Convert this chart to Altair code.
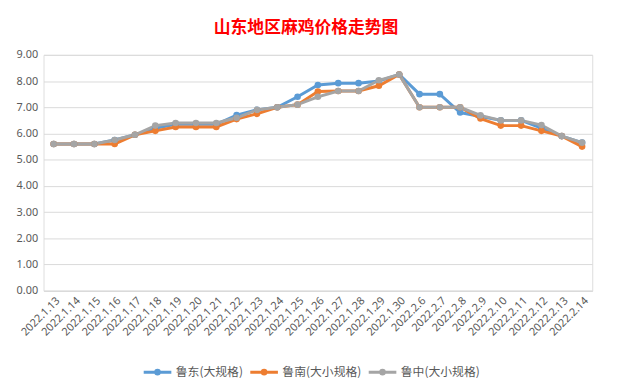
import altair as alt
import pandas as pd

dates = ["2022.1.13", "2022.1.14", "2022.1.15", "2022.1.16", "2022.1.17", "2022.1.18",
         "2022.1.19", "2022.1.20", "2022.1.21", "2022.1.22", "2022.1.23", "2022.1.24",
         "2022.1.25", "2022.1.26", "2022.1.27", "2022.1.28", "2022.1.29", "2022.1.30",
         "2022.2.6", "2022.2.7", "2022.2.8", "2022.2.9", "2022.2.10", "2022.2.11",
         "2022.2.12", "2022.2.13", "2022.2.14"]

ludong = [5.6, 5.6, 5.6, 5.75, 5.95, 6.2, 6.35, 6.35, 6.35, 6.7, 6.9, 7.0,
          7.4, 7.85, 7.92, 7.92, 8.0, 8.25, 7.5, 7.5, 6.8, 6.65, 6.5, 6.5,
          6.2, 5.9, 5.65]
lunan = [5.6, 5.6, 5.6, 5.6, 5.95, 6.1, 6.25, 6.25, 6.25, 6.55, 6.75, 7.0,
         7.1, 7.6, 7.62, 7.62, 7.82, 8.25, 7.0, 7.0, 7.0, 6.57, 6.3, 6.3,
         6.1, 5.9, 5.5]
luzhong = [5.6, 5.6, 5.6, 5.75, 5.95, 6.3, 6.4, 6.4, 6.4, 6.6, 6.9, 7.0,
           7.1, 7.4, 7.62, 7.62, 8.03, 8.25, 7.0, 7.0, 7.0, 6.69, 6.5, 6.5,
           6.32, 5.9, 5.65]

series_names = ["鲁东(大规格)", "鲁南(大小规格)", "鲁中(大小规格)"]
series_values = [ludong, lunan, luzhong]
colors = ["#5B9BD5", "#ED7D31", "#A5A5A5"]

rows = []
for name, vals in zip(series_names, series_values):
    for d, v in zip(dates, vals):
        rows.append({"date": d, "series": name, "price": v})
df = pd.DataFrame(rows)

legend_path = ("M-1,0L1,0"
               "M0.13,0A0.13,0.13,0,1,1,-0.13,0A0.13,0.13,0,1,1,0.13,0")

chart = alt.Chart(df).mark_line(
    strokeWidth=3,
    point=alt.OverlayMarkDef(filled=True, size=45, opacity=1),
).encode(
    x=alt.X("date:N", sort=dates, title=None,
            scale=alt.Scale(type="point", padding=0.5),
            axis=alt.Axis(labelAngle=-45, labelFontSize=11, labelColor="#595959",
                          ticks=False, domain=True, domainColor="#D9D9D9",
                          grid=False, labelPadding=4, labelFont="Noto Sans")),
    y=alt.Y("price:Q", title=None,
            scale=alt.Scale(domain=[0, 9], nice=False),
            axis=alt.Axis(values=list(range(10)), format=".2f", labelFontSize=11,
                          labelColor="#595959", ticks=False, domain=False,
                          gridColor="#D9D9D9", labelPadding=6,
                          labelFont="Noto Sans")),
    color=alt.Color("series:N", sort=series_names,
                    scale=alt.Scale(domain=series_names, range=colors),
                    legend=alt.Legend(title=None, orient="none", direction="horizontal",
                                      legendX=100, legendY=306,
                                      symbolType=legend_path, symbolSize=784,
                                      symbolStrokeWidth=3, labelFontSize=12,
                                      labelColor="#595959", labelOffset=3,
                                      columnPadding=0, gridAlign="none",
                                      labelFont="Noto Sans CJK SC")),
).properties(
    width=556, height=239,
    title=alt.TitleParams("山东地区麻鸡价格走势图", color="#FF0000", fontSize=17,
                          font="Noto Sans CJK SC", fontWeight="bold",
                          anchor="middle", dx=-12, offset=12),
    autosize=alt.AutoSizeParams(type="none"),
    padding={"left": 36, "top": 45, "right": 19, "bottom": 90},
).configure_view(stroke=None).configure(background="white")

chart.save("out.html", embed_options={"renderer": "svg", "actions": False})
